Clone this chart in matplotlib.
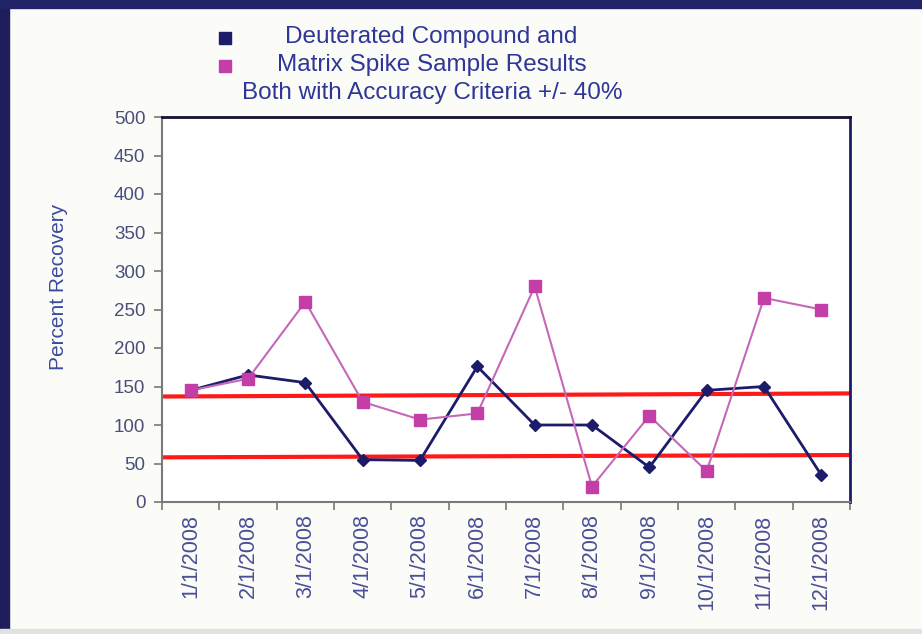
import matplotlib
matplotlib.use("Agg")
import matplotlib.pyplot as plt
from matplotlib.patches import Rectangle

dates = ["1/1/2008", "2/1/2008", "3/1/2008", "4/1/2008", "5/1/2008", "6/1/2008",
         "7/1/2008", "8/1/2008", "9/1/2008", "10/1/2008", "11/1/2008", "12/1/2008"]
deuterated = [145, 165, 155, 55, 54, 176, 100, 100, 45, 145, 150, 35]
matrix_spike = [145, 160, 260, 130, 107, 115, 280, 20, 112, 40, 265, 250]
upper_limit = [137, 141]
lower_limit = [58, 61]
y_ticks = [0, 50, 100, 150, 200, 250, 300, 350, 400, 450, 500]

plt.rcParams['font.family'] = ['Liberation Sans', 'DejaVu Sans']

W, H = 922, 634
fig = plt.figure(figsize=(W / 100, H / 100), dpi=100)
fig.patch.set_facecolor("#fbfbf8")

# navy frame (left and top) and grey strip at the bottom
fig.add_artist(Rectangle((0, 0), 9 / W, 1, transform=fig.transFigure, color="#1e1e5c", zorder=0))
fig.add_artist(Rectangle((0, 1 - 8 / H), 1, 8 / H, transform=fig.transFigure, color="#23236a", zorder=0))
fig.add_artist(Rectangle((0, 0), 1, 5 / H, transform=fig.transFigure, color="#e2e2e2", zorder=0))

ax = fig.add_axes([162 / W, 1 - 502 / H, (850 - 162) / W, (502 - 117) / H])
ax.set_facecolor("white")

x = list(range(len(dates)))
navy = "#1c1c6a"
mag_line = "#c468b8"
mag_mark = "#c43ea8"

ax.plot(x, deuterated, color=navy, lw=2, marker="D", ms=6, mfc=navy, mec=navy, zorder=3)
ax.plot(x, matrix_spike, color=mag_line, lw=1.5, marker="s", ms=9, mfc=mag_mark, mec=mag_mark, zorder=4)
ax.plot([-0.5, 11.5], upper_limit, color="#ff1a1a", lw=3, zorder=2, solid_capstyle="butt")
ax.plot([-0.5, 11.5], lower_limit, color="#ff1a1a", lw=3, zorder=2, solid_capstyle="butt")

ax.set_xlim(-0.5, 11.5)
ax.set_ylim(0, 500)
ax.set_yticks(y_ticks)
ax.set_xticks([i - 0.5 for i in range(len(dates) + 1)])
ax.set_xticklabels([])
ax.set_xticks(x, minor=True)
ax.set_xticklabels(dates, minor=True, rotation=90, fontsize=15.5, color="#4a4f96")
ax.tick_params(axis="x", which="minor", length=0, pad=9)
ax.tick_params(axis="x", which="major", length=6, color="#777777", width=1.2)
ax.tick_params(axis="y", length=6, color="#777777", width=1.2, labelsize=13.5, labelcolor="#4a4f7a", pad=6)

for s in ["left", "bottom"]:
    ax.spines[s].set_color("#7a7a7a")
    ax.spines[s].set_linewidth(1.5)
ax.spines["top"].set_color("#111133")
ax.spines["top"].set_linewidth(2)
ax.spines["right"].set_color("#1c1c6a")
ax.spines["right"].set_linewidth(2)

fig.text(58 / W, 1 - 287 / H, "Percent Recovery", rotation=90, ha="center", va="center",
         fontsize=15, color="#3a4aa0")

# legend-like title block
fig.patches.append(Rectangle((219 / W, 1 - 44 / H), 12 / W, 12 / H, transform=fig.transFigure,
                             color=navy, figure=fig))
fig.patches.append(Rectangle((219 / W, 1 - 72 / H), 12 / W, 12 / H, transform=fig.transFigure,
                             color=mag_mark, figure=fig))
tcol = "#2e3696"
fig.text(431 / W, 1 - 37 / H, "Deuterated Compound and", ha="center", va="center", fontsize=17.5, color=tcol)
fig.text(432 / W, 1 - 65 / H, "Matrix Spike Sample Results", ha="center", va="center", fontsize=17.5, color=tcol)
fig.text(432 / W, 1 - 93 / H, "Both with Accuracy Criteria +/- 40%", ha="center", va="center", fontsize=17.5, color=tcol)

fig.savefig("out.png", dpi=100, facecolor=fig.get_facecolor())
